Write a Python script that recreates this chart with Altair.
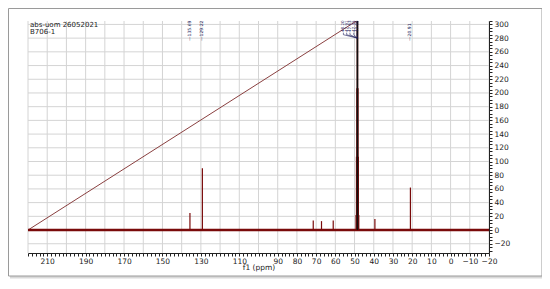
import altair as alt
import pandas as pd

# ---- data ----
peak_ppm = [135.69, 129.22, 71.5, 67.2, 61.1, 39.4, 20.91]
peak_height = [25, 90, 14, 13, 14, 16, 62]
mult_ppm = [49.1, 48.9, 48.7, 48.5, 48.3, 48.1, 47.9]
mult_height = [22, 107, 207, 330, 207, 107, 22]
single_labels = ["\u2014135.69", "\u2014129.22", "\u201420.91"]
single_label_ppm = [135.69, 129.22, 20.91]
group_labels = ["48.20", "47.91", "47.63", "47.35", "47.06"]
group_label_ppm = [55.8, 54.1, 52.4, 50.4, 48.7]
diag_ppm = [220, 48.5]
diag_val = [0, 306]
x_label_values = [210, 190, 170, 150, 130, 110, 90, 80, 70, 60, 50, 40, 30, 20, 10, 0, -10, -20]
grid_x = list(range(-20, 221, 10))
grid_y = list(range(-20, 301, 20))
header_lines = ["abs-uom 26052021", "B706-1"]

W, H = 461, 232
FONT = "DejaVu Sans"
RED = "#7a0a0a"

xscale = alt.Scale(domain=[-20, 220], reverse=True, nice=False, zero=False)
yscale = alt.Scale(domain=[-33.5, 305], nice=False, zero=False)

label_expr = "indexof(" + str(x_label_values) + ", datum.value) >= 0 ? datum.label : ''"
xaxis = alt.Axis(values=list(range(-20, 221, 2)), labelExpr=label_expr, grid=False, zindex=1,
                 tickSize=3, tickColor="#222", domainColor="#222", labelFont=FONT,
                 labelFontSize=7.5, labelColor="#222", labelPadding=1, labelOverlap=False,
                 labelFlush=False, title="f1 (ppm)", titleFont=FONT, titleFontSize=7.5,
                 titleFontWeight="normal", titleColor="#222", titlePadding=-1)
yaxis = alt.Axis(orient="right", values=list(range(-30, 306, 5)), zindex=1,
                 labelExpr="datum.value % 20 == 0 ? datum.label : ''", grid=False,
                 tickSize=3, tickColor="#222", domainColor="#222", labelFont=FONT,
                 labelFontSize=7.5, labelColor="#222", labelPadding=2, labelOverlap=False,
                 labelFlush=False, title=None)


def X(f):
    return alt.X(f, type="quantitative", scale=xscale, axis=xaxis)


def Y(f):
    return alt.Y(f, type="quantitative", scale=yscale, axis=yaxis)


gx = alt.Chart(pd.DataFrame({"ppm": grid_x})).mark_rule(color="#d4d4d4", strokeWidth=1).encode(x=X("ppm"))
gy = alt.Chart(pd.DataFrame({"v": grid_y})).mark_rule(color="#d4d4d4", strokeWidth=1).encode(y=Y("v"))

diag = alt.Chart(pd.DataFrame({"ppm": diag_ppm, "v": diag_val})).mark_line(
    color="#8a4040", strokeWidth=1, clip=True).encode(x=X("ppm"), y=Y("v"))

baseline = alt.Chart(pd.DataFrame({"a": [220], "b": [-20], "v": [0]})).mark_rule(
    color=RED, strokeWidth=2.5).encode(x=X("a"), x2="b", y=Y("v"))

peaks = alt.Chart(pd.DataFrame({"ppm": peak_ppm, "h": peak_height, "base": [0] * len(peak_ppm)})).mark_rule(
    color=RED, strokeWidth=1.2).encode(x=X("ppm"), y=Y("h"), y2="base")

mdf = pd.DataFrame({"ppm": mult_ppm, "h": mult_height, "base": [0] * len(mult_ppm)})
mult = alt.Chart(mdf).mark_rule(color=RED, strokeWidth=1.6, clip=True).encode(x=X("ppm"), y=Y("h"), y2="base")
mult_top = alt.Chart(mdf[mdf["h"] == max(mult_height)]).mark_rule(
    color="#111", strokeWidth=1.6, clip=True).encode(x=X("ppm"), y=Y("h"), y2=alt.Y2("base"))

slab = alt.Chart(pd.DataFrame({"ppm": single_label_ppm, "t": single_labels, "v": [276] * 3})).mark_text(
    angle=270, align="left", baseline="middle", font=FONT, fontSize=4.5, color="#1d1d5c").encode(
    x=X("ppm"), y=Y("v"), text="t")

glab = alt.Chart(pd.DataFrame({"ppm": group_label_ppm, "t": group_labels, "v": [289] * 5})).mark_text(
    angle=270, align="left", baseline="middle", font=FONT, fontSize=4, color="#1d1d5c").encode(
    x=X("ppm"), y=Y("v"), text="t")

brows = []
for i, p in enumerate(group_label_ppm):
    brows += [{"g": i, "o": 0, "ppm": p, "v": 288},
              {"g": i, "o": 1, "ppm": p, "v": 285},
              {"g": i, "o": 2, "ppm": 48.5, "v": 280}]
bracket = alt.Chart(pd.DataFrame(brows)).mark_line(color="#1d1d5c", strokeWidth=0.6).encode(
    x=X("ppm"), y=Y("v"), detail="g:N", order="o:Q")

header1 = alt.Chart(alt.Data(values=[{"t": header_lines[0]}])).mark_text(
    align="left", baseline="alphabetic", font=FONT, fontSize=7, color="#222").encode(
    x=alt.value(2), y=alt.value(6), text="t:N")
header2 = alt.Chart(alt.Data(values=[{"t": header_lines[1]}])).mark_text(
    align="left", baseline="alphabetic", font=FONT, fontSize=7, color="#222").encode(
    x=alt.value(2), y=alt.value(13), text="t:N")

frame_shadow = alt.Chart(alt.Data(values=[{}])).mark_rect(
    fill="#cfcfcf", opacity=0.8).encode(
    x=alt.value(-18), x2=alt.value(516), y=alt.value(-10.5), y2=alt.value(257.5))
frame = alt.Chart(alt.Data(values=[{}])).mark_rect(
    fill="white", stroke="#9a9a9a", strokeWidth=1).encode(
    x=alt.value(-19.5), x2=alt.value(514), y=alt.value(-12.5), y2=alt.value(255))

chart = alt.layer(frame_shadow, frame, gx, gy, diag, baseline, peaks, mult, mult_top,
                  bracket, slab, glab, header1, header2).properties(
    width=W, height=H, autosize="none",
    padding={"left": 20, "top": 13, "right": 53, "bottom": 28},
    background="white",
).configure_view(stroke="#d4d4d4")

chart.save("out.html", embed_options={"renderer": "svg", "actions": False})
